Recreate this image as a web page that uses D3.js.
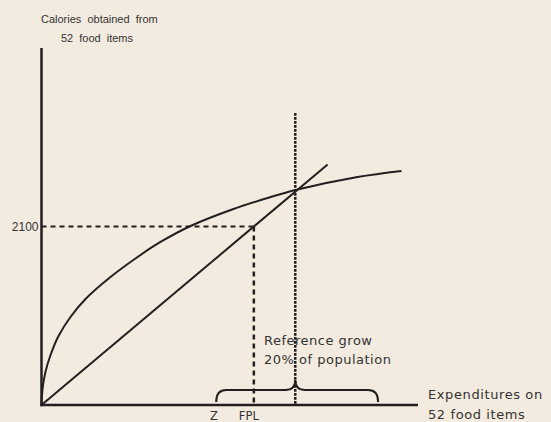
<!DOCTYPE html>
<html><head><meta charset="utf-8">
<script src="https://cdn.jsdelivr.net/npm/d3@7"></script>
<style>
html,body{margin:0;padding:0;background:#f3ebdf;}
svg{display:block;}
</style></head>
<body>
<svg id="c" width="551" height="422"></svg>
<script>
// ---- data ----
const curveX = [0, 0.27, 0.98, 2.31, 4.52, 7.7, 11.69, 18.33, 26.29, 31.61, 39.58, 51.0, 60.03, 67.46, 83.93, 95.62];
const curveY = [0, 188, 376, 576, 812, 1035, 1247, 1506, 1765, 1918, 2106, 2306, 2435, 2529, 2682, 2753];
const lineX = [0, 76];
const lineY = [0, 2830];
const fplX = 56.4;
const zX = 45.8;
const refX = 67.4;
const refTopY = 3435;
const calorieLevel = 2100;
const braceRange = [46.4, 89.4];
const yTickLabels = ["2100"];
const yTickValues = [2100];
const xLabels = ["Z", "FPL"];
const xLabelValues = [zX, fplX];
const yTitle = ["Calories obtained from", "52 food items"];
const xTitle = ["Expenditures on", "52 food items"];
const annotation = ["Reference grow", "20% of population"];

// ---- scales ----
const x = d3.scaleLinear().domain([0, 100]).range([41.5, 418]);
const y = d3.scaleLinear().domain([0, 4200]).range([405, 48]);
const ink = "#231f20";
const svg = d3.select("#c");

// dashed 2100 line & FPL drop
svg.append("path")
  .attr("d", d3.line()([[x(0), y(calorieLevel)], [x(fplX), y(calorieLevel)]]))
  .attr("stroke", ink).attr("stroke-width", 2).attr("stroke-dasharray", "5,4").attr("fill", "none");
svg.append("path")
  .attr("d", d3.line()([[x(fplX), y(calorieLevel)], [x(fplX), y(0)]]))
  .attr("stroke", ink).attr("stroke-width", 2.5).attr("stroke-dasharray", "5,4").attr("fill", "none");
// dotted reference vertical
svg.append("path")
  .attr("d", d3.line()([[x(refX), y(refTopY)], [x(refX), y(0)]]))
  .attr("stroke", ink).attr("stroke-width", 2.5).attr("stroke-dasharray", "2.7,1.3").attr("fill", "none");

// curve
const cdata = curveX.map((v, i) => [v, curveY[i]]);
svg.append("path")
  .attr("d", d3.line().x(d => x(d[0])).y(d => y(d[1])).curve(d3.curveCatmullRom.alpha(0.5))(cdata))
  .attr("stroke", ink).attr("stroke-width", 2).attr("fill", "none");
// straight line
const ldata = lineX.map((v, i) => [v, lineY[i]]);
svg.append("path")
  .attr("d", d3.line().x(d => x(d[0])).y(d => y(d[1]))(ldata))
  .attr("stroke", ink).attr("stroke-width", 2).attr("fill", "none");

// axes
svg.append("line").attr("x1", x(0)).attr("x2", x(0)).attr("y1", y(0) + 1.2).attr("y2", y(4200))
  .attr("stroke", ink).attr("stroke-width", 2.5);
svg.append("line").attr("x1", x(0) - 1.2).attr("x2", x(100)).attr("y1", y(0)).attr("y2", y(0))
  .attr("stroke", ink).attr("stroke-width", 2.5);

// y tick labels
svg.selectAll(".yt").data(yTickValues).enter().append("text")
  .attr("x", x(0) - 3).attr("y", d => y(d) + 4.5)
  .attr("text-anchor", "end")
  .attr("font-family", "Liberation Sans Narrow, Liberation Sans, sans-serif")
  .attr("font-size", 12).attr("fill", "#333")
  .text((d, i) => yTickLabels[i]);

// y title
svg.selectAll(".ytt").data(yTitle).enter().append("text")
  .attr("x", (d, i) => i === 0 ? 41 : 61).attr("y", (d, i) => 22.5 + i * 19)
  .attr("font-family", "Liberation Sans Narrow, Liberation Sans, sans-serif")
  .attr("font-size", 11).attr("word-spacing", 3).attr("fill", "#333")
  .text(d => d);

// x labels
svg.selectAll(".xl").data(xLabelValues).enter().append("text")
  .attr("x", (d, i) => x(d) + (i === 1 ? -5 : 0)).attr("y", 419.5)
  .attr("text-anchor", "middle")
  .attr("font-family", "DejaVu Sans, sans-serif").attr("font-size", 11.5).attr("fill", "#333")
  .text((d, i) => xLabels[i]);

// x title
svg.selectAll(".xt").data(xTitle).enter().append("text")
  .attr("x", 428).attr("y", (d, i) => 399 + i * 20)
  .attr("font-family", "DejaVu Sans, sans-serif").attr("font-size", 13)
  .attr("letter-spacing", 0.6).attr("fill", "#333")
  .text(d => d);

// annotation
svg.selectAll(".an").data(annotation).enter().append("text")
  .attr("x", 264).attr("y", (d, i) => 345 + i * 19)
  .attr("font-family", "DejaVu Sans, sans-serif").attr("font-size", 13)
  .attr("letter-spacing", 0.5).attr("fill", "#333")
  .text(d => d);

// brace
const bx0 = x(braceRange[0]), bx1 = x(braceRange[1]), bm = x(refX);
const yb = 402, yh = 390, yp = 380, r = 10;
const bp = d3.path();
bp.moveTo(bx0, yb);
bp.quadraticCurveTo(bx0, yh, bx0 + r, yh);
bp.lineTo(bm - r, yh);
bp.quadraticCurveTo(bm, yh, bm, yp);
bp.quadraticCurveTo(bm, yh, bm + r, yh);
bp.lineTo(bx1 - r, yh);
bp.quadraticCurveTo(bx1, yh, bx1, yb);
svg.append("path").attr("d", bp.toString()).attr("stroke", ink).attr("stroke-width", 2).attr("fill", "none");
</script>
</body></html>
